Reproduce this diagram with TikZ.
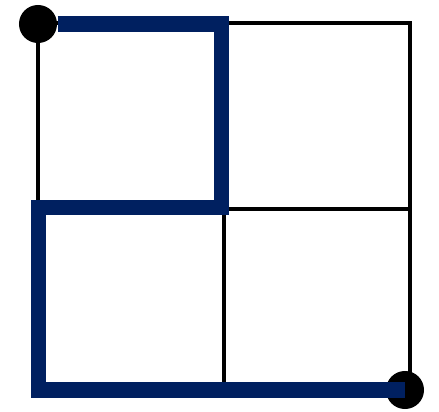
\documentclass[tikz,border=0pt]{standalone}
\usepackage{tikz}
\usetikzlibrary{positioning,calc}
\definecolor{routenavy}{RGB}{0,32,96}
\tikzset{
gridline/.style={draw=black,line width=1pt},
route/.style={draw=routenavy,line width=4.3pt,line join=miter},
enddot/.style={circle,fill=black,minimum size=0.38cm,inner sep=0pt}
}
\begin{document}
\begin{tikzpicture}[x=0.01cm,y=-0.01cm]
\useasboundingbox (0,0) rectangle (439,412);
% grid of four cells
\coordinate (tl) at (38,23);
\coordinate (br) at (410,390);
\draw[gridline] (tl) rectangle (br);
\draw[gridline] (224,23) -- (224,390);
\draw[gridline] (38,209) -- (410,209);
% end points
\node[enddot] (start) at (38,24) {};
\node[enddot] (finish) at (405,390) {};
% the walk
\coordinate (c1) at (221.5,24);
\coordinate (c2) at (221.5,207.5);
\coordinate (c3) at (38.5,207.5);
\coordinate (c4) at (38.5,390);
\draw[route] (start) -- (c1) -- (c2) -- (c3) -- (c4) -- (finish.center);
\end{tikzpicture}
\end{document}
